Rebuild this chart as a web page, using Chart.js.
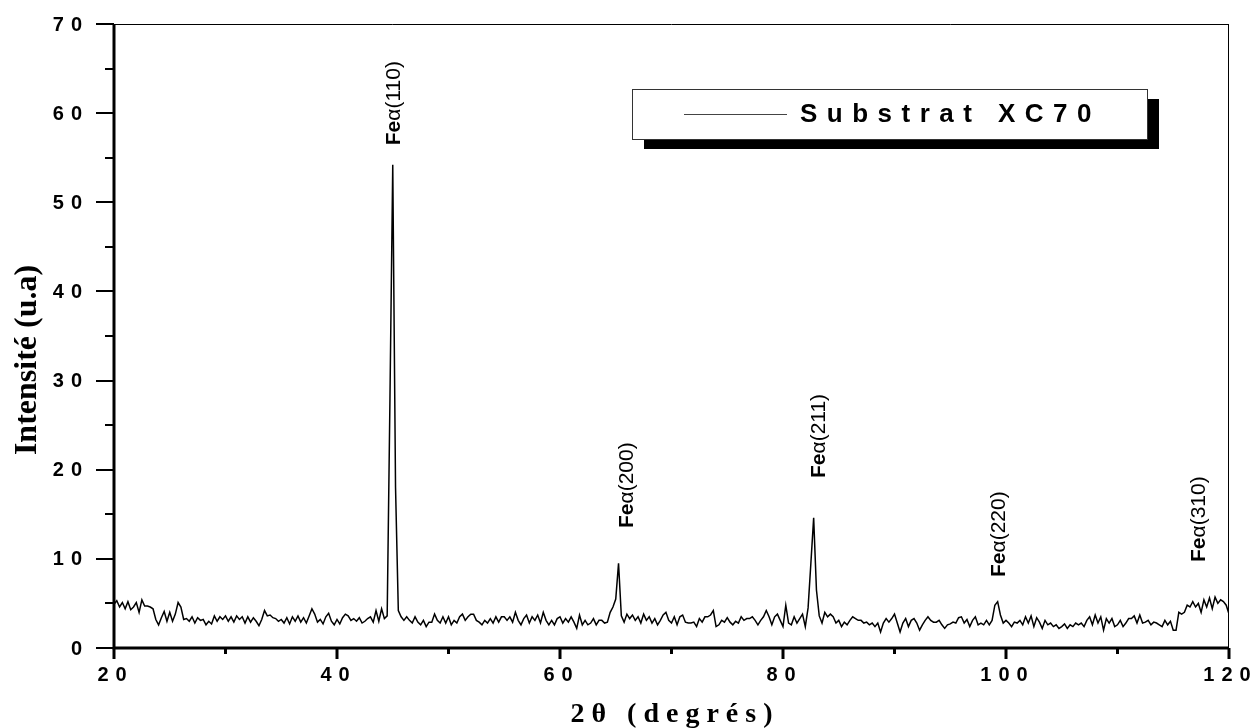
<!DOCTYPE html>
<html>
<head>
<meta charset="utf-8">
<script src="https://cdn.jsdelivr.net/npm/chart.js@4/dist/chart.umd.min.js"></script>
<style>
  html, body { margin: 0; padding: 0; background: #fff; }
  canvas { display: block; }
</style>
</head>
<body>
<canvas id="xrd" width="1253" height="728"></canvas>
<script>
// --- scan data: 2theta from 20 to 120 deg, 0.25 deg step ---
const twoThetaStart = 20;
const twoThetaStep = 0.25;
// one row per degree (.00 .25 .50 .75)
const intensity = [
  4.9, 5.3, 4.6, 5.1,   // 20
  4.4, 5.2, 4.3, 4.6,   // 21
  5.1, 4.0, 5.4, 4.7,   // 22
  4.7, 4.6, 4.4, 3.2,   // 23
  2.6, 3.4, 4.1, 3.0,   // 24
  4.0, 3.0, 3.8, 5.1,   // 25
  4.6, 3.2, 3.3, 3.0,   // 26
  3.5, 2.8, 3.4, 3.1,   // 27
  3.2, 2.6, 3.0, 2.7,   // 28
  3.6, 3.0, 3.5, 3.2,   // 29
  3.6, 3.0, 3.5, 2.9,   // 30
  3.6, 3.2, 3.5, 2.8,   // 31
  3.5, 2.9, 3.4, 3.0,   // 32
  2.5, 3.2, 4.2, 3.6,   // 33
  3.7, 3.4, 3.3, 3.0,   // 34
  3.2, 2.8, 3.4, 2.7,   // 35
  3.5, 3.0, 3.6, 2.9,   // 36
  3.4, 2.8, 3.6, 4.4,   // 37
  3.8, 2.9, 3.2, 2.7,   // 38
  3.5, 3.9, 3.0, 2.6,   // 39
  3.2, 2.7, 3.4, 3.8,   // 40
  3.6, 3.1, 3.3, 3.0,   // 41
  3.4, 2.8, 3.0, 3.3,   // 42
  3.5, 2.9, 4.2, 3.0,   // 43
  4.4, 3.3, 3.6, 28.0,  // 44
  54.2, 18.0, 4.2, 3.5, // 45  Fe(110)
  3.1, 3.5, 3.1, 2.8,   // 46
  3.5, 2.9, 2.6, 3.1,   // 47
  2.4, 2.9, 2.9, 3.8,   // 48
  3.1, 2.8, 3.5, 2.8,   // 49
  3.5, 2.6, 3.1, 2.8,   // 50
  3.5, 3.8, 3.1, 3.5,   // 51
  3.8, 3.8, 3.1, 2.9,   // 52
  2.6, 3.1, 2.8, 3.3,   // 53
  2.8, 3.5, 2.9, 3.5,   // 54
  3.5, 3.1, 3.5, 2.9,   // 55
  4.0, 3.1, 2.6, 3.3,   // 56
  3.7, 2.8, 3.5, 3.1,   // 57
  3.7, 2.8, 4.0, 3.1,   // 58
  2.6, 3.1, 2.6, 3.3,   // 59
  3.5, 2.8, 3.3, 2.9,   // 60
  3.5, 2.9, 2.2, 3.7,   // 61
  2.6, 3.1, 2.6, 2.8,   // 62
  3.3, 2.6, 3.1, 3.1,   // 63
  2.8, 2.9, 4.0, 4.6,   // 64
  5.5, 9.5, 3.6, 2.9,   // 65  Fe(200)
  3.8, 3.3, 3.7, 3.1,   // 66
  3.5, 2.8, 3.8, 3.1,   // 67
  3.5, 2.8, 3.3, 2.6,   // 68
  3.1, 3.7, 4.0, 3.1,   // 69
  2.8, 3.5, 2.6, 3.5,   // 70
  3.7, 2.9, 2.8, 2.8,   // 71
  2.9, 2.4, 3.3, 2.9,   // 72
  3.5, 3.5, 3.7, 4.2,   // 73
  2.4, 2.6, 3.1, 2.9,   // 74
  3.4, 2.9, 2.6, 3.0,   // 75
  2.8, 3.5, 3.1, 3.3,   // 76
  3.3, 3.5, 3.1, 2.6,   // 77
  3.1, 3.5, 4.2, 3.5,   // 78
  2.6, 3.5, 3.8, 3.1,   // 79
  2.4, 4.8, 2.8, 2.6,   // 80
  3.5, 2.8, 3.3, 3.8,   // 81
  2.4, 4.5, 9.5, 14.6,  // 82  Fe(211)
  6.5, 3.6, 2.8, 4.0,   // 83
  3.5, 3.8, 3.5, 2.8,   // 84
  3.1, 2.4, 2.9, 2.6,   // 85
  3.1, 3.5, 3.3, 3.1,   // 86
  3.1, 2.8, 2.9, 2.6,   // 87
  2.8, 2.4, 2.8, 1.8,   // 88
  2.8, 3.3, 2.9, 3.3,   // 89
  3.8, 2.8, 1.8, 2.8,   // 90
  3.3, 2.4, 3.1, 3.3,   // 91
  2.8, 2.0, 2.6, 3.1,   // 92
  3.5, 3.1, 2.9, 2.9,   // 93
  3.1, 2.6, 2.2, 2.6,   // 94
  2.7, 2.9, 2.8, 3.4,   // 95
  3.5, 2.8, 3.2, 2.4,   // 96
  3.1, 3.5, 2.6, 2.8,   // 97
  2.6, 3.1, 2.6, 3.1,   // 98
  4.8, 5.2, 3.7, 2.8,   // 99  Fe(220)
  3.1, 2.8, 2.4, 2.9,   // 100
  2.8, 3.1, 2.6, 3.5,   // 101
  2.8, 3.6, 2.4, 3.4,   // 102
  2.9, 2.2, 3.1, 2.6,   // 103
  2.8, 2.4, 2.6, 2.2,   // 104
  2.4, 2.7, 2.2, 2.6,   // 105
  2.4, 2.8, 2.6, 2.8,   // 106
  2.4, 3.1, 3.5, 2.6,   // 107
  3.7, 2.8, 3.5, 2.0,   // 108
  3.3, 2.8, 3.3, 2.4,   // 109
  2.6, 3.1, 2.4, 2.8,   // 110
  3.3, 3.3, 3.6, 2.8,   // 111
  3.7, 2.8, 2.9, 3.1,   // 112
  2.6, 2.9, 2.8, 2.6,   // 113
  2.4, 3.1, 2.6, 3.0,   // 114
  2.0, 2.0, 4.0, 3.8,   // 115
  4.0, 4.8, 4.6, 5.2,   // 116
  4.6, 5.0, 4.0, 5.4,   // 117
  4.6, 5.6, 4.4, 5.7,   // 118
  5.0, 5.4, 5.2, 4.8,   // 119
  3.8                   // 120
];

const xTicks = [20, 40, 60, 80, 100, 120];
const xMinorTicks = [30, 50, 70, 90, 110];
const yTicks = [0, 10, 20, 30, 40, 50, 60, 70];
const yMinorTicks = [5, 15, 25, 35, 45, 55, 65];

// peak names and where their label starts (2theta, intensity)
const peakNames = ['(110)', '(200)', '(211)', '(220)', '(310)'];
const peakLabelX = [45.65, 66.55, 83.77, 99.91, 117.85];
const peakLabelY = [56.4, 13.46, 19.07, 7.97, 9.65];

const seriesName = 'Substrat XC70';
const xTitle = '2θ (degrés)';
const yTitle = 'Intensité (u.a)';

const SANS = '"Liberation Sans", Arial, sans-serif';
const SERIF = '"Liberation Serif", "Times New Roman", serif';

const points = intensity.map((v, i) => ({ x: twoThetaStart + i * twoThetaStep, y: v }));

// draw text with extra space between letters
function spacedText(ctx, text, x, y, spacing, align) {
  const chars = [...text];
  const widths = chars.map(c => ctx.measureText(c).width);
  const total = widths.reduce((a, b) => a + b, 0) + spacing * (chars.length - 1);
  let cx = x;
  if (align === 'center') cx = x - total / 2;
  else if (align === 'right') cx = x - total;
  ctx.textAlign = 'left';
  chars.forEach((c, i) => {
    ctx.fillText(c, cx, y);
    cx += widths[i] + spacing;
  });
}

const axesPlugin = {
  id: 'originAxes',
  afterDatasetsDraw(chart) {
    const { ctx, chartArea: a, scales: { x, y } } = chart;
    ctx.save();
    ctx.strokeStyle = '#000';
    ctx.fillStyle = '#000';

    // thin frame top / right
    ctx.lineWidth = 1;
    ctx.beginPath();
    ctx.moveTo(a.left, a.top + 0.5); ctx.lineTo(a.right, a.top + 0.5);
    ctx.moveTo(a.right - 0.5, a.top); ctx.lineTo(a.right - 0.5, a.bottom);
    ctx.stroke();

    // thick left / bottom axes
    ctx.lineWidth = 3;
    ctx.beginPath();
    ctx.moveTo(a.left, a.top); ctx.lineTo(a.left, a.bottom + 1.5);
    ctx.moveTo(a.left - 1.5, a.bottom); ctx.lineTo(a.right, a.bottom);
    ctx.stroke();

    // y ticks
    ctx.lineWidth = 2;
    ctx.beginPath();
    yTicks.forEach(v => {
      const py = Math.round(y.getPixelForValue(v));
      ctx.moveTo(a.left - 18, py); ctx.lineTo(a.left, py);
    });
    yMinorTicks.forEach(v => {
      const py = Math.round(y.getPixelForValue(v));
      ctx.moveTo(a.left - 9, py); ctx.lineTo(a.left, py);
    });
    ctx.stroke();

    // x ticks
    ctx.lineWidth = 3;
    ctx.beginPath();
    xTicks.forEach(v => {
      const px = x.getPixelForValue(v);
      ctx.moveTo(px, a.bottom); ctx.lineTo(px, a.bottom + 11);
    });
    xMinorTicks.forEach(v => {
      const px = x.getPixelForValue(v);
      ctx.moveTo(px, a.bottom); ctx.lineTo(px, a.bottom + 6);
    });
    ctx.stroke();

    // tick labels
    ctx.font = 'bold 20px ' + SANS;
    ctx.textBaseline = 'middle';
    yTicks.forEach(v => {
      spacedText(ctx, String(v), a.left - 32, y.getPixelForValue(v) + 1, 7, 'right');
    });
    xTicks.forEach(v => {
      spacedText(ctx, String(v), x.getPixelForValue(v) - 2, a.bottom + 27, 7, 'center');
    });

    // axis titles
    ctx.font = 'bold 28px ' + SERIF;
    ctx.textBaseline = 'alphabetic';
    spacedText(ctx, xTitle, (a.left + a.right) / 2, 722, 7, 'center');

    ctx.save();
    ctx.translate(36, 360);
    ctx.rotate(-Math.PI / 2);
    ctx.font = 'bold 32px ' + SERIF;
    ctx.textAlign = 'center';
    ctx.fillText(yTitle, 0, 0);
    ctx.restore();

    // peak labels, vertical
    peakNames.forEach((name, i) => {
      const px = x.getPixelForValue(peakLabelX[i]);
      const py = y.getPixelForValue(peakLabelY[i]);
      ctx.save();
      ctx.translate(px, py);
      ctx.rotate(-Math.PI / 2);
      ctx.textAlign = 'left';
      ctx.textBaseline = 'alphabetic';
      ctx.font = 'bold 21px ' + SANS;
      ctx.fillText('Fe', 0, 0);
      const w = ctx.measureText('Fe').width;
      ctx.font = '21px ' + SANS;
      ctx.fillText('α' + name, w, 0);
      ctx.restore();
    });

    // legend box with drop shadow
    const bx = 632, by = 89, bw = 515, bh = 50;
    ctx.fillStyle = '#000';
    ctx.fillRect(bx + 12, by + 10, bw, bh);
    ctx.fillStyle = '#fff';
    ctx.fillRect(bx, by, bw, bh);
    ctx.strokeStyle = '#333';
    ctx.lineWidth = 1;
    ctx.strokeRect(bx + 0.5, by + 0.5, bw, bh);
    ctx.strokeStyle = '#444';
    ctx.beginPath();
    ctx.moveTo(684, 114.5); ctx.lineTo(787, 114.5);
    ctx.stroke();
    ctx.fillStyle = '#000';
    ctx.font = 'bold 26px ' + SANS;
    ctx.textBaseline = 'middle';
    spacedText(ctx, 'Substrat', 800, 115, 9.5, 'left');
    spacedText(ctx, 'XC70', 998, 115, 9.5, 'left');

    ctx.restore();
  }
};

new Chart(document.getElementById('xrd'), {
  type: 'line',
  data: {
    datasets: [{
      label: seriesName,
      data: points,
      borderColor: '#000',
      borderWidth: 1.5,
      pointRadius: 0,
      tension: 0,
      fill: false
    }]
  },
  options: {
    responsive: false,
    animation: false,
    devicePixelRatio: 1,
    layout: { padding: { left: 114, right: 24, top: 24, bottom: 80 } },
    plugins: { legend: { display: false }, tooltip: { enabled: false } },
    scales: {
      x: { type: 'linear', min: 20, max: 120, display: false },
      y: { min: 0, max: 70, display: false }
    }
  },
  plugins: [axesPlugin]
});
</script>
</body>
</html>
